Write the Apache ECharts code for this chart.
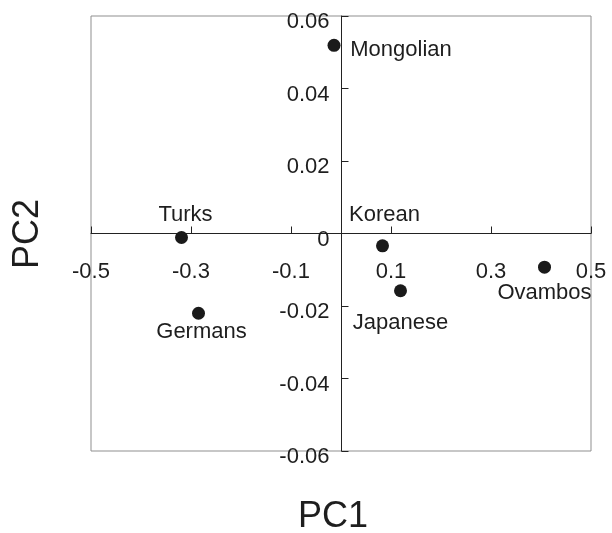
<!DOCTYPE html>
<html><head><meta charset="utf-8">
<script src="https://cdn.jsdelivr.net/npm/echarts@6/dist/echarts.min.js"></script>
<style>html,body{margin:0;padding:0;background:#fff}#c{width:612px;height:533px}</style>
</head><body><div id="c"></div>
<script>
const populations = ['Mongolian','Turks','Korean','Japanese','Ovambos','Germans'];
const pc1 = [-0.014, -0.319, 0.083, 0.119, 0.407, -0.285];
const pc2 = [0.0519, -0.0011, -0.0034, -0.0158, -0.0093, -0.0220];
const labelOffsets = [[67,5],[4,-23],[2,-31],[0,32],[0,26],[3,19]];
const xTicks = [-0.5,-0.3,-0.1,0.1,0.3,0.5];
const yTicks = [-0.06,-0.04,-0.02,0,0.02,0.04,0.06];

const FONT = "'Liberation Sans', Arial, sans-serif";
const TXT = '#1e1e1e';
const chart = echarts.init(document.getElementById('c'));
const fmt = v => { const r = Math.round(v*100)/100; return r === 0 ? '0' : String(r); };
chart.setOption({
  animation: false,
  grid: {left: 91, top: 16, width: 500, height: 435, show: true, borderColor: '#8f8f8f', borderWidth: 1, backgroundColor: 'transparent'},
  xAxis: {
    type: 'value', min: xTicks[0], max: xTicks[xTicks.length-1], interval: 0.2,
    position: 'bottom', offset: -217.5,
    axisLine: {onZero: false, lineStyle: {color: '#222', width: 1}},
    axisTick: {show: true, inside: true, length: 7, lineStyle: {color: '#222'}},
    axisLabel: {show: true, margin: 27, fontSize: 22, fontFamily: FONT, color: TXT,
      showMinLabel: true, showMaxLabel: true, hideOverlap: false,
      formatter: v => { const r = Math.round(v*10)/10; return r === 0 ? '' : String(r); }},
    splitLine: {show: false}
  },
  yAxis: {
    type: 'value', min: yTicks[0], max: yTicks[yTicks.length-1], interval: 0.02,
    position: 'left', offset: -250.5,
    axisLine: {onZero: false, lineStyle: {color: '#222', width: 1}},
    axisTick: {show: true, inside: true, length: 7, lineStyle: {color: '#222'}},
    axisLabel: {show: true, margin: 12, fontSize: 22, fontFamily: FONT, color: TXT,
      verticalAlign: 'top', lineHeight: 12,
      showMinLabel: true, showMaxLabel: true, hideOverlap: false, formatter: fmt},
    splitLine: {show: false}
  },
  graphic: [
    {type: 'text', x: 333, y: 517, style: {text: 'PC1', fontSize: 36, fontFamily: FONT, fill: TXT, align: 'center', verticalAlign: 'middle'}},
    {type: 'text', x: 28, y: 234, rotation: Math.PI/2, style: {text: 'PC2', fontSize: 36, fontFamily: FONT, fill: TXT, align: 'center', verticalAlign: 'middle'}}
  ],
  series: [{
    type: 'scatter', symbol: 'circle', symbolSize: 13,
    itemStyle: {color: '#1a1a1a', opacity: 1},
    data: populations.map((n,i) => ({
      name: n, value: [pc1[i], pc2[i]],
      label: {show: true, formatter: n, position: 'inside', offset: labelOffsets[i],
        fontSize: 22, fontFamily: FONT, color: TXT, align: 'center', verticalAlign: 'middle'}
    }))
  }]
});
</script></body></html>
